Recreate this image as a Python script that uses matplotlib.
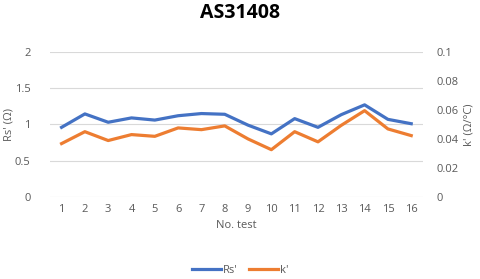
import matplotlib.pyplot as plt
import numpy as np

tests = list(range(1, 17))
rs = [0.96, 1.145, 1.03, 1.09, 1.06, 1.12, 1.15, 1.14, 0.99, 0.87, 1.08, 0.96, 1.135, 1.27, 1.07, 1.01]
k = [0.0368, 0.045, 0.0389, 0.043, 0.0418, 0.0476, 0.0464, 0.049, 0.040, 0.0326, 0.045, 0.038, 0.0494, 0.0595, 0.0469, 0.0423]

gray = "#595959"
plt.rcParams['font.family'] = ['Open Sans', 'DejaVu Sans']

fig = plt.figure(figsize=(4.8, 2.79), dpi=100)
ax = fig.add_axes([0.104, 0.294, 0.777, 0.52])
ax2 = ax.twinx()

l1, = ax.plot(tests, rs, color="#4472C4", lw=2.3, label="Rs'")
l2, = ax2.plot(tests, k, color="#ED7D31", lw=2.3, label="k'")

ax.set_xlim(0.5, 16.5)
ax.set_ylim(0, 2)
ax2.set_ylim(0, 0.1)
ax.set_yticks(np.arange(0, 2.01, 0.5))
ax.set_yticklabels(['0', '0.5', '1', '1.5', '2'])
ax2.set_yticks(np.arange(0, 0.101, 0.02))
ax2.set_yticklabels(['0', '0.02', '0.04', '0.06', '0.08', '0.1'])
ax.set_xticks(tests)

ax.grid(axis='y', color="#D9D9D9", lw=0.8)
ax.set_axisbelow(True)
for a in (ax, ax2):
    for s in a.spines.values():
        s.set_visible(False)
    a.tick_params(length=0, colors=gray, labelsize=8)
ax.tick_params(axis='y', pad=14)
ax2.tick_params(axis='y', pad=10)
ax.tick_params(axis='x', pad=5)

ax.set_ylabel("Rs' (Ω)", color=gray, fontsize=8)
ax.yaxis.set_label_coords(-0.095, 0.5)
ax2.set_ylabel("k' (Ω/°C)", color=gray, fontsize=8, rotation=90)
ax2.yaxis.set_label_coords(1.11, 0.5)
ax.set_xlabel("No. test", color=gray, fontsize=8, labelpad=4)

fig.suptitle("AS31408", fontsize=14, fontweight='bold', y=0.99)

fig.legend(handles=[l1, l2], loc='lower center', bbox_to_anchor=(0.5, -0.025), ncol=2,
           frameon=False, fontsize=8, labelcolor=gray, handlelength=2.6, handletextpad=0.2,
           columnspacing=1.0)

fig.savefig("out.png", dpi=100)
